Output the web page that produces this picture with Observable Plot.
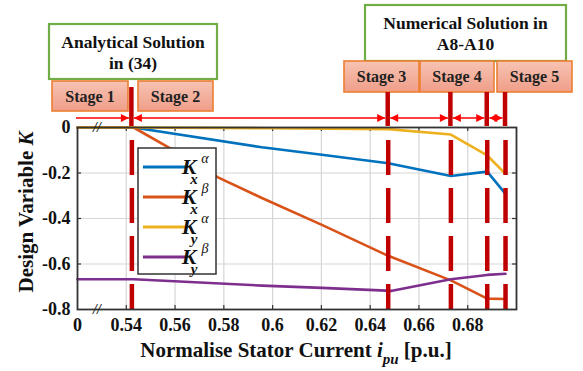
<!DOCTYPE html>
<html><head><meta charset="utf-8">
<script src="https://cdn.jsdelivr.net/npm/d3@7"></script>
<script src="https://cdn.jsdelivr.net/npm/@observablehq/plot@0.6"></script>
<style>body{margin:0;background:#fff}svg{display:block}</style>
</head><body><div id="chart"></div>
<script>
// ---- data ----
const xTicks = [0, 0.54, 0.56, 0.58, 0.6, 0.62, 0.64, 0.66, 0.68];
const xTickLabels = ["0", "0.54", "0.56", "0.58", "0.6", "0.62", "0.64", "0.66", "0.68"];
const yTicks = [0, -0.2, -0.4, -0.6, -0.8];
const yTickLabels = ["0", "-0.2", "-0.4", "-0.6", "-0.8"];
const stageX = [0.5423, 0.6474, 0.6731, 0.688, 0.6955];
const stageNames = ["Stage 1", "Stage 2", "Stage 3", "Stage 4", "Stage 5"];
const groupNames = [["Analytical Solution", "in (34)"], ["Numerical Solution in", "A8-A10"]];
const seriesSub = ["x", "x", "y", "y"];
const seriesSup = ["α", "β", "α", "β"];
const seriesColors = ["#0072BD", "#D95319", "#EDB120", "#7E2F8E"];

const kxAlphaX = [0, 0.543, 0.5956, 0.6202, 0.6474, 0.6731, 0.688, 0.6955];
const kxAlphaY = [0, 0, -0.087, -0.12, -0.157, -0.213, -0.194, -0.292];
const kxBetaX = [0, 0.543, 0.5584, 0.5776, 0.5956, 0.6202, 0.6474, 0.6731, 0.688, 0.6955];
const kxBetaY = [0, 0, -0.094, -0.219, -0.31, -0.428, -0.564, -0.672, -0.752, -0.754];
const kyAlphaX = [0, 0.543, 0.6, 0.6474, 0.6731, 0.688, 0.6955];
const kyAlphaY = [0, 0, -0.003, -0.007, -0.031, -0.123, -0.204];
const kyBetaX = [0, 0.543, 0.5956, 0.6202, 0.649, 0.6731, 0.688, 0.6955];
const kyBetaY = [-0.667, -0.667, -0.695, -0.705, -0.718, -0.667, -0.648, -0.643];

// broken axis: the "0" value sits one tick interval before 0.54
const BREAK_POS = 0.52;
const brk = v => (v === 0 ? BREAK_POS : v);

const seriesX = [kxAlphaX, kxBetaX, kyAlphaX, kyBetaX];
const seriesY = [kxAlphaY, kxBetaY, kyAlphaY, kyBetaY];
const rows = [];
seriesX.forEach((xs, s) => xs.forEach((x, i) => rows.push({s, x: brk(x), y: seriesY[s][i]})));

const W = 583, H = 371, mL = 77, mR = 67, mT = 127, mB = 62;
const innerW = W - mL - mR, innerH = H - mT - mB;
const xLabelMap = new Map(xTicks.map((t, i) => [brk(t), xTickLabels[i]]));
const yLabelMap = new Map(yTicks.map((t, i) => [t, yTickLabels[i]]));
const gridXV = xTicks.filter(t => t !== 0);
const gridYV = yTicks.filter(t => t !== 0 && t !== -0.8);
const serif = "'Liberation Serif', 'Times New Roman', serif";

const plot = Plot.plot({
  width: W, height: H,
  marginLeft: mL, marginRight: mR, marginTop: mT, marginBottom: mB,
  style: {fontFamily: serif, fontSize: "18px", fontWeight: "bold", color: "#111", background: "#fff"},
  x: {domain: [0.52, 0.70]},
  y: {domain: [-0.8, 0]},
  marks: [
    Plot.gridX(gridXV, {stroke: "#d6d6d6", strokeOpacity: 1, strokeWidth: 1.2}),
    Plot.gridY(gridYV, {stroke: "#d6d6d6", strokeOpacity: 1, strokeWidth: 1.2}),
    Plot.axisX(xTicks.map(brk), {tickSize: 0, tickPadding: 9, tickFormat: d => xLabelMap.get(d), label: null}),
    Plot.axisY(yTicks, {tickSize: 0, tickPadding: 7, tickFormat: d => yLabelMap.get(d), label: null}),
    Plot.ruleX(gridXV, {x: d => d, insetTop: innerH - 4, stroke: "#333", strokeWidth: 1.2}),
    Plot.ruleX(gridXV, {x: d => d, insetBottom: innerH - 4, stroke: "#333", strokeWidth: 1.2}),
    Plot.ruleY(gridYV, {y: d => d, insetRight: innerW - 4, stroke: "#333", strokeWidth: 1.2}),
    Plot.ruleY(gridYV, {y: d => d, insetLeft: innerW - 4, stroke: "#333", strokeWidth: 1.2}),
    Plot.line(rows, {x: "x", y: "y", z: "s", stroke: d => seriesColors[d.s], strokeWidth: 2.6}),
    Plot.ruleX(stageX, {x: d => d, stroke: "#C00000", strokeWidth: 4.5, strokeDasharray: "35,13", strokeDashoffset: 35}),
    Plot.frame({stroke: "#333", strokeWidth: 1.8})
  ]
});
document.getElementById("chart").appendChild(plot);

// ---- annotations ----
const xs = plot.scale("x"), ys = plot.scale("y");
const svg = d3.select(plot);

// axis break marks
[0, -0.8].forEach(v => {
  svg.append("text").attr("x", 97).attr("y", ys.apply(v) + 5)
    .attr("text-anchor", "middle").attr("font-family", serif).attr("font-size", 14)
    .attr("font-style", "italic").attr("font-weight", "bold").attr("fill", "#222").text("//");
});

// legend
const lg = svg.append("g");
lg.append("rect").attr("x", 138).attr("y", 148).attr("width", 78).attr("height", 126)
  .attr("fill", "#fff").attr("stroke", "#333").attr("stroke-width", 1.5);
seriesColors.forEach((c, i) => {
  const yy = 167 + i * 30;
  lg.append("line").attr("x1", 143).attr("x2", 187).attr("y1", yy).attr("y2", yy)
    .attr("stroke", c).attr("stroke-width", 2.8);
  const t = lg.append("text").attr("x", 189).attr("y", yy + 7).attr("font-family", serif)
    .attr("font-weight", "bold").attr("font-style", "italic").attr("fill", "#111");
  t.append("tspan").attr("font-size", 22).text("K");
  t.append("tspan").attr("x", 205).attr("dy", -11).attr("font-size", 14).attr("font-weight", "normal").text(seriesSup[i]);
  t.append("tspan").attr("x", 194).attr("dy", 21).attr("font-size", 15).text(seriesSub[i]);
});

// axis titles
const yl = svg.append("text").attr("transform", "translate(33,212) rotate(-90)")
  .attr("text-anchor", "middle").attr("font-family", serif).attr("font-size", 21)
  .attr("font-weight", "bold").attr("fill", "#111");
yl.append("tspan").text("Design Variable ");
yl.append("tspan").attr("font-style", "italic").text("K");

const xl = svg.append("text").attr("x", 296).attr("y", 357)
  .attr("text-anchor", "middle").attr("font-family", serif).attr("font-size", 21)
  .attr("font-weight", "bold").attr("fill", "#111");
xl.append("tspan").text("Normalise Stator Current ");
xl.append("tspan").attr("font-style", "italic").text("i");
xl.append("tspan").attr("font-style", "italic").attr("font-size", 15).attr("dy", 7).text("pu");
xl.append("tspan").attr("dy", -7).text(" [p.u.]");

// header boxes
const defs = svg.append("defs");
const gr = defs.append("linearGradient").attr("id", "stageFill").attr("x1", 0).attr("y1", 0).attr("x2", 0).attr("y2", 1);
gr.append("stop").attr("offset", "0%").attr("stop-color", "#F7C3B3");
gr.append("stop").attr("offset", "100%").attr("stop-color", "#EF9E88");

const groupBoxes = [[49, 24, 168, 55], [365, 5, 201, 56]];
groupBoxes.forEach(([bx, by, bw, bh], i) => {
  svg.append("rect").attr("x", bx).attr("y", by).attr("width", bw).attr("height", bh)
    .attr("fill", "#fff").attr("stroke", "#70AD47").attr("stroke-width", 2.2);
  groupNames[i].forEach((t, j) => {
    svg.append("text").attr("x", bx + bw / 2).attr("y", by + 24 + j * 21)
      .attr("text-anchor", "middle").attr("font-family", serif).attr("font-size", 17.5)
      .attr("font-weight", "bold").attr("fill", "#111").text(t);
  });
});

const stageBoxes = [[52, 81, 76, 30], [138, 81, 75, 30], [344, 61, 75, 31], [420, 61, 74, 31], [497, 61, 75, 31]];
stageBoxes.forEach(([bx, by, bw, bh], i) => {
  svg.append("rect").attr("x", bx).attr("y", by).attr("width", bw).attr("height", bh)
    .attr("fill", "url(#stageFill)").attr("stroke", "#ED7D31").attr("stroke-width", 1.6);
  svg.append("text").attr("x", bx + bw / 2).attr("y", by + bh / 2 + 5.5)
    .attr("text-anchor", "middle").attr("font-family", serif).attr("font-size", 16)
    .attr("font-weight", "bold").attr("fill", "#222").text(stageNames[i]);
});

// solid red bars above the frame
stageX.forEach((s, i) => {
  svg.append("line").attr("x1", xs.apply(s)).attr("x2", xs.apply(s))
    .attr("y1", i === 0 ? 87 : 92).attr("y2", mT - 1)
    .attr("stroke", "#C00000").attr("stroke-width", 4.5);
});

// red arrows
const mk = defs.append("marker").attr("id", "ah").attr("viewBox", "0 0 10 10")
  .attr("refX", 10).attr("refY", 5).attr("markerWidth", 9).attr("markerHeight", 8)
  .attr("markerUnits", "userSpaceOnUse").attr("orient", "auto-start-reverse");
mk.append("path").attr("d", "M0,0 L10,5 L0,10 Z").attr("fill", "#FF0000");
const ay = 118;
const edges = [76, ...stageX.map(s => xs.apply(s))];
for (let i = 0; i < edges.length - 1; i++) {
  const a = edges[i] + (i === 0 ? 0 : 2.5), b = edges[i + 1] - 2.5;
  const ln = svg.append("line").attr("x1", a).attr("x2", b).attr("y1", ay).attr("y2", ay)
    .attr("stroke", "#FF0000").attr("stroke-width", 1.4).attr("marker-end", "url(#ah)");
  if (i > 0) ln.attr("marker-start", "url(#ah)");
}
</script>
</body></html>
